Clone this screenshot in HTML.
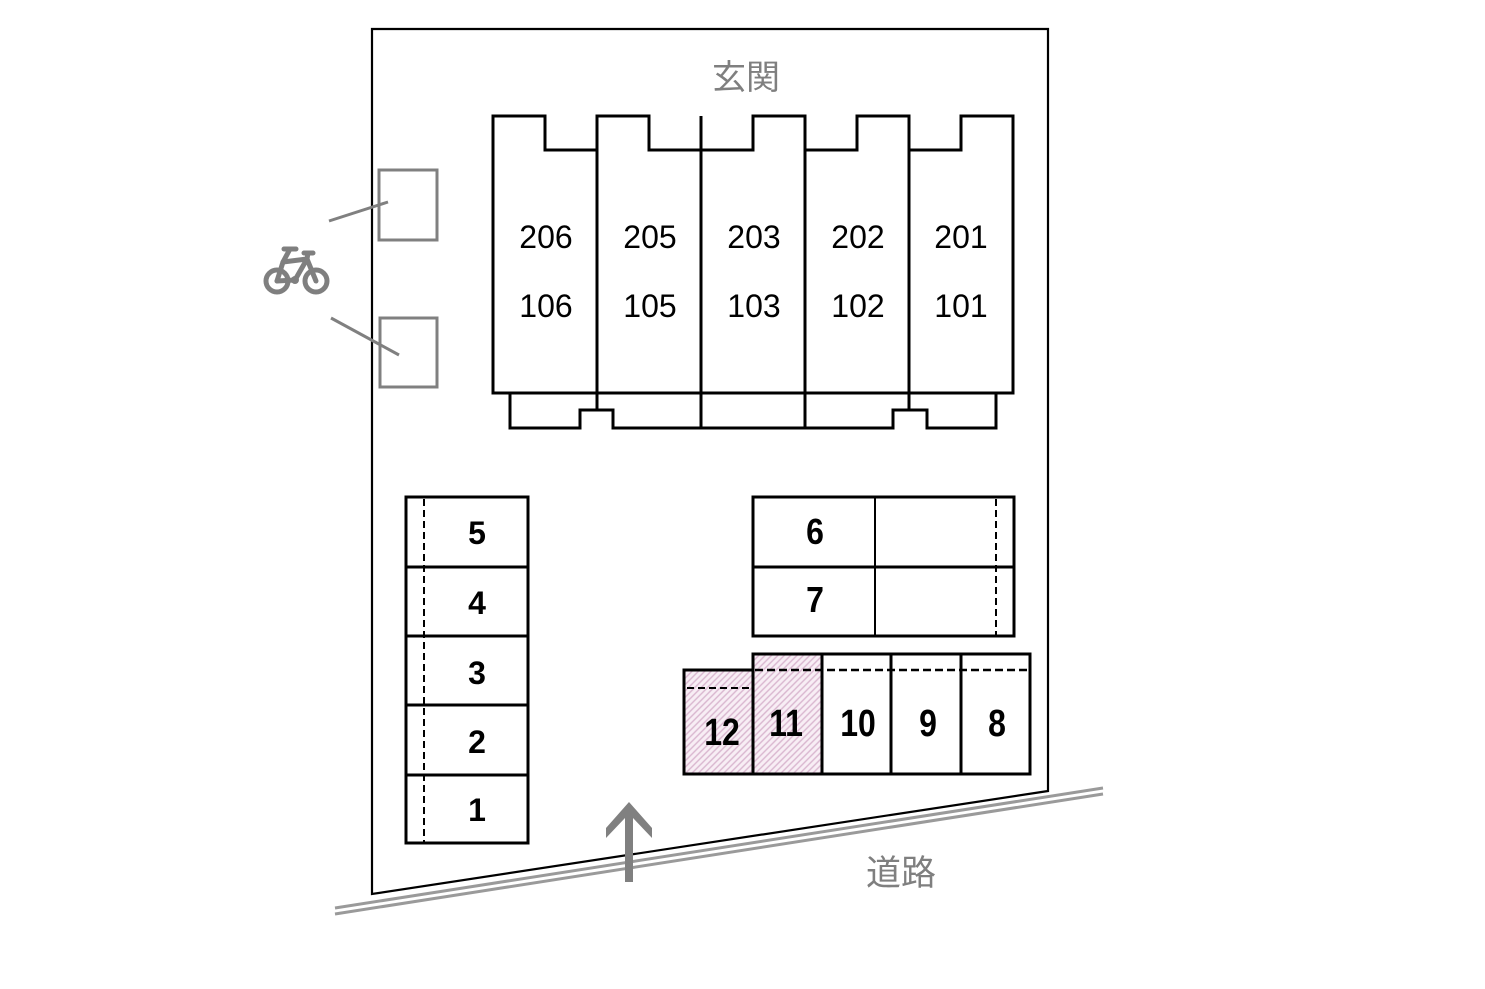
<!DOCTYPE html>
<html>
<head>
<meta charset="utf-8">
<style>
html,body{margin:0;padding:0;background:#fff;}
svg{display:block;}
.num{font-family:"Liberation Sans",sans-serif;font-size:32px;fill:#000;text-anchor:middle;}
.b{font-weight:bold;}
.jp{font-family:"Liberation Sans","Noto Sans CJK JP",sans-serif;fill:#7f7f7f;text-anchor:middle;}
</style>
</head>
<body>
<svg width="1485" height="989" viewBox="0 0 1485 989" xmlns="http://www.w3.org/2000/svg">
<defs>
<pattern id="hatch" patternUnits="userSpaceOnUse" width="4.5" height="4.5" patternTransform="rotate(45)">
<rect width="4.5" height="4.5" fill="#f8eef5"/>
<line x1="1" y1="0" x2="1" y2="4.5" stroke="#d9b6cf" stroke-width="1.4"/>
</pattern>
</defs>
<rect width="1485" height="989" fill="#fff"/>

<!-- Road lines -->
<line x1="335" y1="908" x2="1103" y2="788" stroke="#9a9a9a" stroke-width="3"/>
<line x1="335" y1="914" x2="1103" y2="794" stroke="#9a9a9a" stroke-width="3"/>

<!-- Site boundary -->
<path d="M372,29 L1048,29 L1048,791 L372,894 Z" fill="none" stroke="#000" stroke-width="2.2"/>

<!-- 玄関 -->
<text class="jp" x="746" y="89" font-size="34">玄関</text>
<!-- 道路 -->
<text class="jp" x="901" y="885" font-size="35">道路</text>

<!-- Arrow -->
<polygon points="629,802 652,828 652,838 633,818 633,882 625,882 625,818 606,838 606,828" fill="#808080"/>

<!-- Bicycle parking squares -->
<rect x="379" y="170" width="58" height="70" fill="none" stroke="#808080" stroke-width="3"/>
<rect x="380" y="318" width="57" height="69" fill="none" stroke="#808080" stroke-width="3"/>
<line x1="329" y1="221" x2="388" y2="202" stroke="#808080" stroke-width="3"/>
<line x1="331" y1="318" x2="399" y2="355" stroke="#808080" stroke-width="3"/>

<!-- Bicycle icon -->
<g fill="none" stroke="#7f7f7f" stroke-width="5" stroke-linecap="round" stroke-linejoin="round">
<circle cx="277" cy="281" r="11"/>
<circle cx="316" cy="281" r="11"/>
<path d="M284,249 H296"/>
<path d="M290,249 L283,262 L277,281"/>
<path d="M283,262 L307,259"/>
<path d="M277,281 L295,280 L307,259"/>
<path d="M307,259 L316,281"/>
<path d="M304,253 H313"/>
<path d="M308,253 L307,259"/>
</g>
<circle cx="295" cy="280" r="4" fill="#7f7f7f"/>

<!-- Building -->
<g fill="none" stroke="#000" stroke-width="3">
<path d="M493,116 H545 V150 H597 V116 H649 V150 H753 V116 H805 V150 H857 V116 H909 V150 H961 V116 H1013 V393 H493 Z" fill="#fff"/>
<path d="M597,116 V410"/>
<path d="M701,116 V428"/>
<path d="M805,116 V428"/>
<path d="M909,116 V410"/>
<path d="M510,393 V428 H580 V410 H613 V428 H893 V410 H927 V428 H996 V393"/>
</g>
<text class="num" x="546" y="248">206</text>
<text class="num" x="650" y="248">205</text>
<text class="num" x="754" y="248">203</text>
<text class="num" x="858" y="248">202</text>
<text class="num" x="961" y="248">201</text>
<text class="num" x="546" y="317">106</text>
<text class="num" x="650" y="317">105</text>
<text class="num" x="754" y="317">103</text>
<text class="num" x="858" y="317">102</text>
<text class="num" x="961" y="317">101</text>

<!-- Left parking 1-5 -->
<g fill="none" stroke="#000" stroke-width="3">
<rect x="406" y="497" width="122" height="346"/>
<line x1="406" y1="567" x2="528" y2="567"/>
<line x1="406" y1="636" x2="528" y2="636"/>
<line x1="406" y1="705" x2="528" y2="705"/>
<line x1="406" y1="775" x2="528" y2="775"/>
</g>
<line x1="424" y1="499" x2="424" y2="842" stroke="#000" stroke-width="2" stroke-dasharray="7,4"/>
<text class="num b" x="477" y="544" font-size="31">5</text>
<text class="num b" x="477" y="614" font-size="31">4</text>
<text class="num b" x="477" y="684" font-size="31">3</text>
<text class="num b" x="477" y="753" font-size="31">2</text>
<text class="num b" x="477" y="821" font-size="31">1</text>

<!-- Right parking 6-7 -->
<g fill="none" stroke="#000">
<rect x="753" y="497" width="261" height="139" stroke-width="3"/>
<line x1="753" y1="567" x2="1014" y2="567" stroke-width="3"/>
<line x1="875" y1="497" x2="875" y2="636" stroke-width="2"/>
</g>
<line x1="996" y1="499" x2="996" y2="635" stroke="#000" stroke-width="2" stroke-dasharray="7,4"/>
<text class="num b" font-size="31" transform="translate(815,544) scale(1,1.12)">6</text>
<text class="num b" font-size="31" transform="translate(815,612) scale(1,1.12)">7</text>

<!-- Bottom parking 8-12 -->
<rect x="684" y="670" width="69" height="104" fill="url(#hatch)"/>
<rect x="753" y="654" width="69" height="120" fill="url(#hatch)"/>
<g fill="none" stroke="#000" stroke-width="3">
<path d="M753,670 H684 V774 H1030 V654 H753 V774"/>
<line x1="822" y1="654" x2="822" y2="774"/>
<line x1="891" y1="654" x2="891" y2="774"/>
<line x1="961" y1="654" x2="961" y2="774"/>
</g>
<line x1="687" y1="688" x2="752" y2="688" stroke="#000" stroke-width="2" stroke-dasharray="7,4"/>
<line x1="755" y1="670" x2="1029" y2="670" stroke="#000" stroke-width="2.4" stroke-dasharray="8,4"/>
<text class="num b" font-size="32" transform="translate(722,745) scale(1,1.2)">12</text>
<text class="num b" font-size="32" transform="translate(786,736) scale(1,1.2)">11</text>
<text class="num b" font-size="32" transform="translate(858,736) scale(1,1.2)">10</text>
<text class="num b" font-size="32" transform="translate(928,736) scale(1,1.2)">9</text>
<text class="num b" font-size="32" transform="translate(997,736) scale(1,1.2)">8</text>
</svg>
</body>
</html>
